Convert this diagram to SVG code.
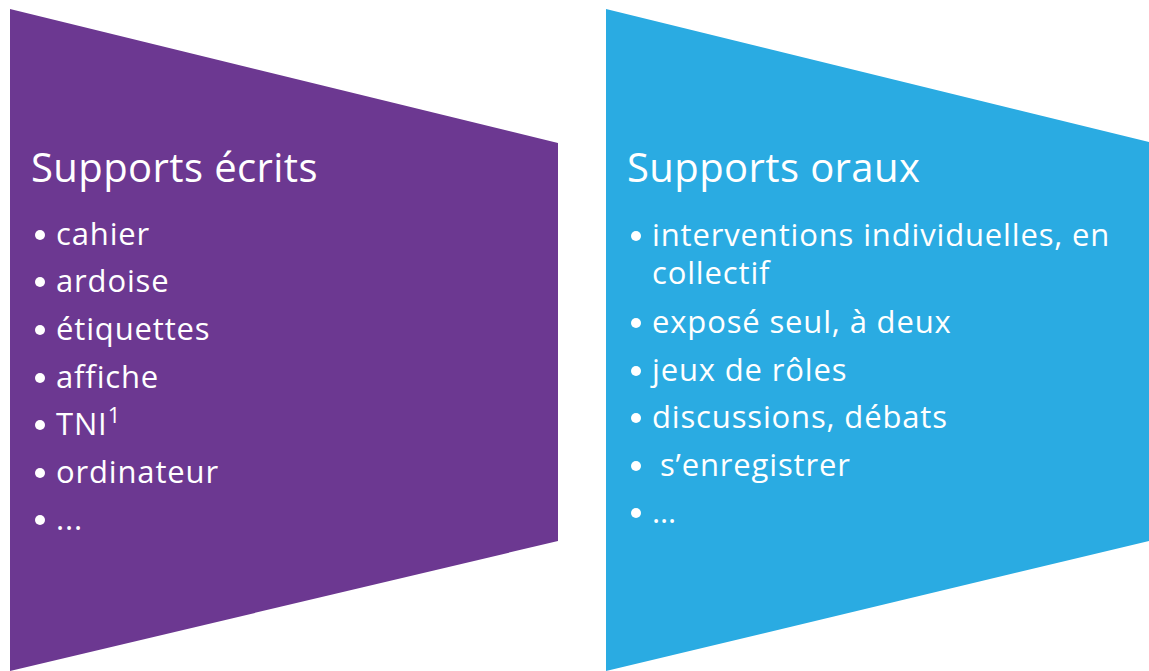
<svg xmlns="http://www.w3.org/2000/svg" width="1149" height="671" viewBox="0 0 1149 671">
<style>
text{font-family:"Open Sans",Lato,sans-serif;fill:#fff;font-variant-ligatures:none}
.t{font-size:40px;letter-spacing:0.4px}
.i{font-size:31px;letter-spacing:0.85px}
.b{fill:#fff}
</style>
<rect width="1149" height="671" fill="#fff"/>
<g id="ecrits">
<polygon points="10,9 558,143 558,541 10,671" fill="#6C3891"/>
<text class="t" x="31" y="182">Supports écrits</text>
<circle class="b" cx="40" cy="235" r="5"/><text class="i" x="56" y="245">cahier</text>
<circle class="b" cx="40" cy="282" r="5"/><text class="i" x="56" y="292">ardoise</text>
<circle class="b" cx="40" cy="330" r="5"/><text class="i" x="56" y="340">étiquettes</text>
<circle class="b" cx="40" cy="378" r="5"/><text class="i" x="56" y="388">affiche</text>
<circle class="b" cx="40" cy="425" r="5"/><text class="i" x="56" y="435">TNI<tspan font-size="22" dy="-12">1</tspan></text>
<circle class="b" cx="40" cy="473" r="5"/><text class="i" x="56" y="483">ordinateur</text>
<circle class="b" cx="40" cy="520" r="5"/><text class="i" x="56" y="530">...</text>
</g>
<g id="oraux">
<polygon points="606,9 1149,142 1149,541 606,671" fill="#2AABE2"/>
<text class="t" x="627" y="182">Supports oraux</text>
<circle class="b" cx="636" cy="236" r="5"/><text class="i" x="652" y="246">interventions individuelles, en</text>
<text class="i" x="652" y="284">collectif</text>
<circle class="b" cx="636" cy="323" r="5"/><text class="i" x="652" y="333">exposé seul, à deux</text>
<circle class="b" cx="636" cy="371" r="5"/><text class="i" x="652" y="381">jeux de rôles</text>
<circle class="b" cx="636" cy="418" r="5"/><text class="i" x="652" y="428">discussions, débats</text>
<circle class="b" cx="636" cy="466" r="5"/><text class="i" x="660" y="476">s’enregistrer</text>
<circle class="b" cx="636" cy="513" r="5"/><text class="i" x="652" y="523">…</text>
</g>
</svg>
